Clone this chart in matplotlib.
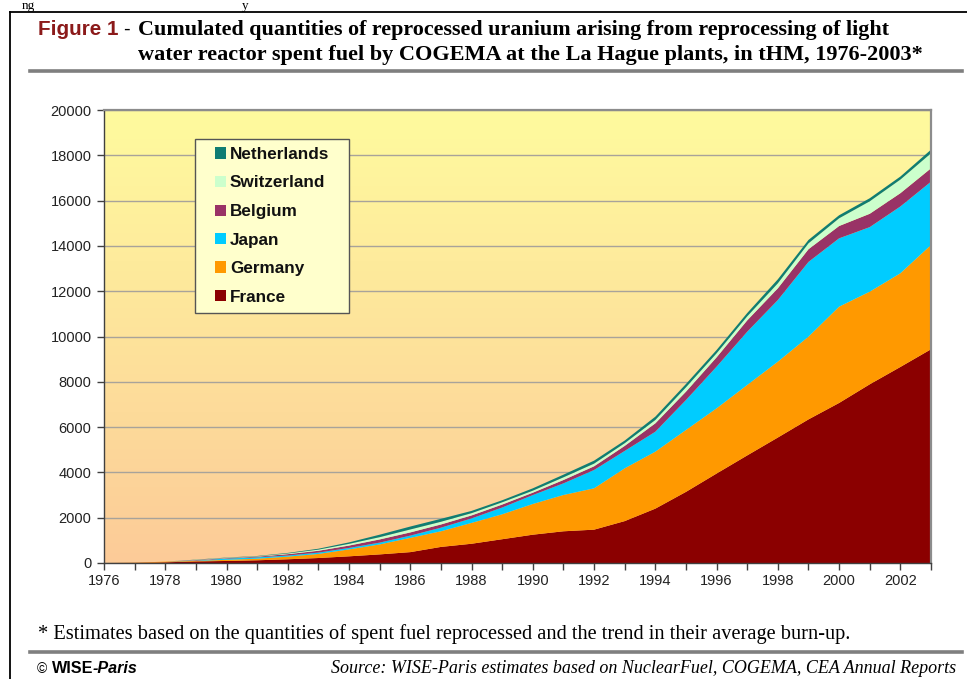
import numpy as np
import matplotlib
matplotlib.use("Agg")
import matplotlib.pyplot as plt
from matplotlib.patches import Rectangle
from matplotlib.lines import Line2D

# ---------------- data (tHM, per country, stacked) ----------------
years = list(range(1976, 2004))
france      = [0, 5, 30, 70, 90, 120, 165, 220, 295, 380, 480, 710, 850, 1050,
               1250, 1400, 1472, 1850, 2400, 3140, 3950, 4750, 5540, 6340,
               7066, 7890, 8655, 9436]
germany     = [0, 10, 30, 25, 50, 70, 115, 180, 305, 440, 630, 690, 920, 1100,
               1355, 1602, 1825, 2329, 2515, 2732, 2878, 3109, 3348, 3653,
               4250, 4089, 4135, 4604]
japan       = [0, 0, 0, 15, 55, 60, 50, 60, 65, 80, 100, 160, 200, 300,
               395, 515, 810, 770, 882, 1324, 1840, 2353, 2723, 3300,
               3018, 2850, 2950, 2795]
belgium     = [0, 0, 0, 20, 20, 30, 60, 80, 105, 140, 140, 140, 130, 130,
               104, 147, 162, 220, 369, 368, 412, 500, 517, 560,
               544, 589, 587, 591]
switzerland = [0, 0, 0, 10, 13, 15, 30, 50, 75, 100, 130, 120, 100, 100,
               89, 118, 118, 119, 147, 192, 177, 177, 221, 260,
               340, 550, 600, 662]
netherlands = [0, 0, 0, 10, 12, 15, 25, 40, 65, 110, 130, 130, 100, 90,
               104, 118, 132, 118, 147, 147, 147, 147, 176, 150,
               135, 136, 135, 160]

series_names = ["France", "Germany", "Japan", "Belgium", "Switzerland", "Netherlands"]
series_colors = ["#8B0000", "#FF9900", "#00CCFF", "#993366", "#CCFFCC", "#107D72"]
y_ticks = list(range(0, 20001, 2000))
x_label_years = list(range(1976, 2003, 2))

# ---------------- figure ----------------
W, H = 967, 679
fig = plt.figure(figsize=(W / 100, H / 100), dpi=100)
fig.patch.set_facecolor("white")


def fx(px):
    return px / W


def fy(py):
    return 1 - py / H


ax = fig.add_axes([fx(104), fy(563), fx(931) - fx(104), fy(110) - fy(563)])

# gradient background of plot area
g = np.linspace(0, 1, 256)[:, None, None]
top_c = np.array([255, 251, 158]) / 255
bot_c = np.array([252, 203, 152]) / 255
img = top_c[None, None, :] * (1 - g) + bot_c[None, None, :] * g
img = np.repeat(img, 2, axis=1)
ax.imshow(img, extent=[years[0], years[-1], y_ticks[0], y_ticks[-1]],
          aspect="auto", origin="upper", zorder=-1, interpolation="bilinear")

ax.stackplot(years, france, germany, japan, belgium, switzerland, netherlands,
             colors=series_colors, linewidth=0, zorder=2)

ax.set_xlim(years[0], years[-1])
ax.set_ylim(y_ticks[0], y_ticks[-1])
ax.set_yticks(y_ticks)
ax.set_yticklabels([str(v) for v in y_ticks])
ax.set_xticks(years)
ax.set_xticklabels([str(y) if y in x_label_years else "" for y in years])

ax.set_axisbelow(True)
ax.yaxis.grid(True, color="#A8A39A", lw=1.0)
ax.xaxis.grid(False)

for s in ["left", "bottom"]:
    ax.spines[s].set_color("#404040")
    ax.spines[s].set_linewidth(1.0)
for s in ["top", "right"]:
    ax.spines[s].set_color("#8C8C8C")
    ax.spines[s].set_linewidth(1.6)

ax.tick_params(axis="both", direction="out", length=5, width=1, color="#404040",
               labelsize=10.5, labelcolor="#222222")
ax.tick_params(axis="y", pad=4)
ax.tick_params(axis="x", pad=3)
for lab in ax.get_xticklabels() + ax.get_yticklabels():
    lab.set_fontfamily("Liberation Sans")

# ---------------- legend (drawn box, entries from the series lists) ----------------
fig.add_artist(Rectangle((fx(195), fy(313)), fx(349) - fx(195), fy(139) - fy(313),
                         facecolor="#FFFFCC", edgecolor="#555555", lw=1.0,
                         transform=fig.transFigure, zorder=10))
row_y = [153, 181.5, 210, 238.5, 267, 295.5]
for (name, col), ry in zip(list(zip(series_names, series_colors))[::-1], row_y):
    fig.add_artist(Rectangle((fx(215), fy(ry + 5.5)), fx(226) - fx(215), fy(ry - 5.5) - fy(ry + 5.5),
                             facecolor=col, edgecolor="none",
                             transform=fig.transFigure, zorder=11))
    fig.text(fx(230), fy(ry), name, fontfamily="Liberation Sans", fontweight="bold",
             fontsize=12.3, va="center_baseline", ha="left", color="#111111", zorder=12)

# ---------------- texts and frame ----------------
fig.add_artist(Line2D([fx(10), 1], [fy(12), fy(12)], color="black", lw=1.3))
fig.add_artist(Line2D([fx(10), fx(10)], [fy(12), 0], color="black", lw=1.3))
fig.add_artist(Line2D([fx(30), fx(962)], [fy(71), fy(71)], color="#7F7F7F", lw=2.6))
fig.add_artist(Line2D([fx(30), fx(962)], [fy(652), fy(652)], color="#7F7F7F", lw=2.6))

# text fragments at the top edge
fig.text(fx(22), fy(8.5), "ng", fontfamily="Liberation Serif", fontsize=9.5,
         va="baseline", ha="left", color="black")
fig.text(fx(242), fy(8.5), "y", fontfamily="Liberation Serif", fontsize=9.5,
         va="baseline", ha="left", color="black")

renderer = fig.canvas.get_renderer()


def fit_text(x0, x1, ybase, s, size, **kw):
    t = fig.text(fx(x0), fy(ybase), s, fontsize=size, va="baseline", ha="left", **kw)
    bb = t.get_window_extent(renderer=renderer)
    t.set_fontsize(size * (x1 - x0) / bb.width)
    return t


fit_text(38, 118, 35, "Figure 1", 14.5, fontfamily="Liberation Sans",
         fontweight="bold", color="#8B1A1A")
fig.text(fx(123), fy(35), "-", fontsize=14.5, fontfamily="Liberation Sans",
         va="baseline", ha="left", color="black")
fit_text(138, 886, 35,
         "Cumulated quantities of reprocessed uranium arising from reprocessing of light",
         14.5, fontfamily="Liberation Serif", fontweight="bold", color="black")
fit_text(138, 921, 60,
         "water reactor spent fuel by COGEMA at the La Hague plants, in tHM, 1976-2003*",
         14.5, fontfamily="Liberation Serif", fontweight="bold", color="black")

fit_text(38, 848, 639,
         "* Estimates based on the quantities of spent fuel reprocessed and the trend in their average burn-up.",
         13, fontfamily="Liberation Serif", color="black")

fig.text(fx(37), fy(673), "\u00a9", fontsize=10, fontfamily="Liberation Sans",
         va="baseline", ha="left")
t_wise = fit_text(52, 93, 673, "WISE", 11, fontfamily="Liberation Sans", fontweight="bold")
fig.text(fx(93), fy(673), "-Paris", fontsize=t_wise.get_fontsize(),
         fontfamily="Liberation Sans", fontweight="bold", fontstyle="italic",
         va="baseline", ha="left")
fit_text(331, 960, 673,
         "Source: WISE-Paris estimates based on NuclearFuel, COGEMA, CEA Annual Reports",
         12.5, fontfamily="Liberation Serif", fontstyle="italic")

fig.savefig("out.png", dpi=100)
